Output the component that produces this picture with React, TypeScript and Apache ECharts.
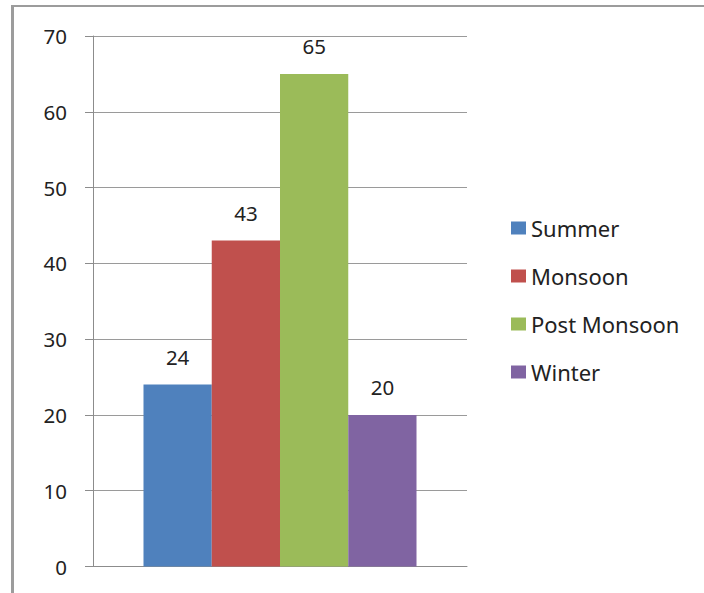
import React, { useEffect, useRef } from "react";
import * as echarts from "echarts";

const seasons = ["Summer", "Monsoon", "Post Monsoon", "Winter"];
const values = [24, 43, 65, 20];
const colors = ["#4F81BD", "#C0504D", "#9BBB59", "#8064A2"];
const yTicks = { min: 0, max: 70, interval: 10 };

const FONT = "'Noto Sans', 'DejaVu Sans', sans-serif";

export default function App() {
  const ref = useRef<HTMLDivElement>(null);

  useEffect(() => {
    if (!ref.current) return;
    const chart = echarts.init(ref.current, undefined, { renderer: "svg" });

    const series = seasons.map((name, i) => ({
      name,
      type: "bar",
      data: [values[i]],
      barGap: "0%",
      barCategoryGap: "27%",
      itemStyle: { color: colors[i] },
      label: {
        show: true,
        position: "top",
        distance: 17,
        fontFamily: FONT,
        fontSize: 20.5,
        color: "#222",
      },
    }));

    chart.setOption({
      animation: false,
      backgroundColor: "#ffffff",
      textStyle: { fontFamily: FONT },
      grid: { left: 93, right: 237, top: 36, bottom: 26.5, containLabel: false },
      xAxis: {
        type: "category",
        data: [""],
        axisLine: { show: true, lineStyle: { color: "#8c8c8c", width: 1 } },
        axisTick: { show: false },
        axisLabel: { show: false },
      },
      yAxis: {
        type: "value",
        min: yTicks.min,
        max: yTicks.max,
        interval: yTicks.interval,
        axisLine: { show: true, lineStyle: { color: "#8c8c8c", width: 1 } },
        axisTick: { show: true, length: 8, lineStyle: { color: "#8c8c8c" } },
        axisLabel: { margin: 26, fontSize: 20.5, color: "#222", fontFamily: FONT },
        splitLine: { show: true, lineStyle: { color: "#9a9a9a", width: 1 } },
      },
      legend: {
        orient: "vertical",
        left: 506,
        top: 212,
        itemWidth: 15,
        itemHeight: 13,
        itemGap: 26,
        icon: "rect",
        textStyle: { fontSize: 22, color: "#222", fontFamily: FONT, lineHeight: 22 },
        data: seasons,
      },
      graphic: [
        {
          type: "rect",
          shape: { x: 11, y: 5, width: 3, height: 600 },
          style: { fill: "#9c9c9c" },
          silent: true,
        },
        {
          type: "rect",
          shape: { x: 11, y: 5, width: 700, height: 2 },
          style: { fill: "#9c9c9c" },
          silent: true,
        },
      ],
      series,
    });

    return () => chart.dispose();
  }, []);

  return (
    <div
      ref={ref}
      style={{ position: "absolute", left: 0, top: 0, width: 704, height: 593 }}
    />
  );
}
